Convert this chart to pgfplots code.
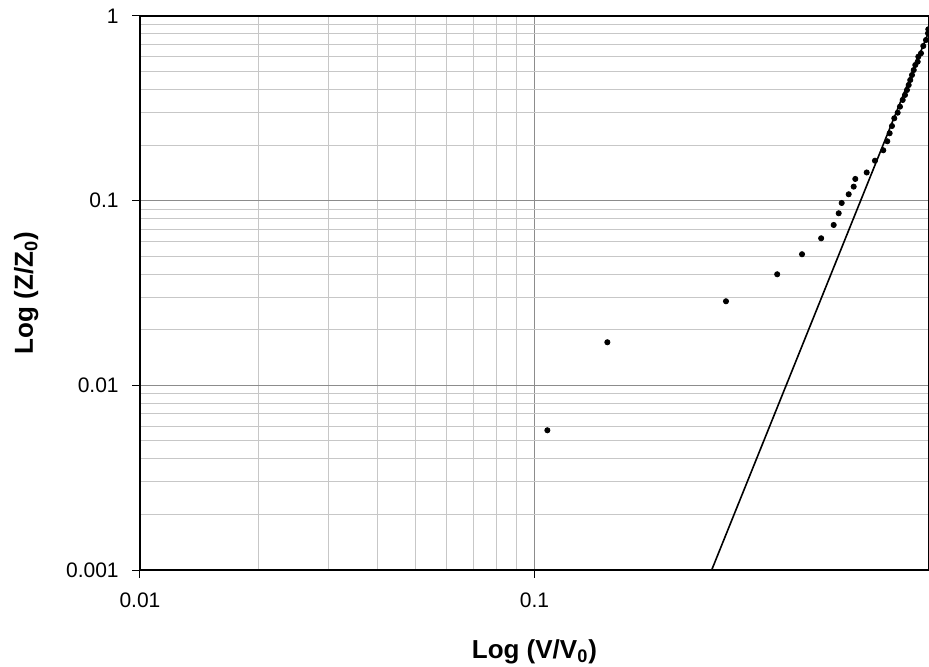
\documentclass[border=0pt]{standalone}
\usepackage{pgfplots}
\pgfplotsset{compat=1.18}
\usepackage{fontspec}
\setmainfont{Liberation Sans}

\begin{document}
\begin{tikzpicture}
\begin{axis}[
  name=ax,
  xmode=log, ymode=log,
  scale only axis,
  width=394.5pt, height=277pt,
  xmin=0.01, xmax=1, ymin=0.001, ymax=1,
  xtick={0.01,0.1}, xticklabels={0.01,0.1},
  ytick={0.001,0.01,0.1,1}, yticklabels={0.001,0.01,0.1,1},
  tick pos=left, tick align=outside,
  major tick length=4pt, minor tick length=0pt,
  major tick style={black, line width=0.5pt},
  grid=both,
  major grid style={black!45, line width=0.5pt},
  minor grid style={black!22, line width=0.5pt},
  axis line style={black, line width=0.6pt},
  ticklabel style={font=\fontsize{10.5}{12}\selectfont, inner sep=0pt},
  xticklabel style={anchor=base, yshift=-15pt},
  yticklabel style={anchor=east, xshift=-6.5pt},
  xlabel={Log (V/V\textsubscript{0})},
  ylabel={Log (Z/Z\textsubscript{0})},
  label style={font=\fontsize{13}{15}\selectfont\bfseries},
  xlabel style={at={([yshift=-44pt]axis description cs:0.5,0)}, anchor=base},
  ylabel style={at={([xshift=-53.5pt]axis description cs:0,0.5)}, anchor=base, rotate=0},
]
% measured points
\addplot[only marks, mark=*, mark size=1.3pt, black] coordinates {
  (0.1078,0.00571) (0.1530,0.01711) (0.3058,0.02852) (0.4123,0.03995)
  (0.4766,0.05127) (0.5329,0.06256) (0.5734,0.07386) (0.5904,0.08545)
  (0.6008,0.09717) (0.6259,0.1083) (0.6444,0.1191) (0.6504,0.1311)
  (0.6952,0.1421) (0.7296,0.1646) (0.7659,0.1875) (0.7840,0.2097)
  (0.7950,0.2317) (0.8057,0.2537) (0.8166,0.2793) (0.8330,0.2996)
  (0.8442,0.3228) (0.8577,0.3510) (0.8693,0.3735) (0.8794,0.3975)
  (0.8882,0.4229) (0.8965,0.4502) (0.9056,0.4791) (0.9147,0.5099)
  (0.9231,0.5427) (0.9362,0.5656) (0.9395,0.6021) (0.9544,0.6281)
  (0.9673,0.6880) (0.9826,0.7414) (0.9942,0.8061) (0.9959,0.8472)
};
% power-law fit
\addplot[black, line width=0.8pt] coordinates {(0.2813,0.001) (1,0.828)};
\end{axis}
\pgfresetboundingbox
\path ([shift={(-70pt,-48.5pt)}]ax.south west) rectangle ([shift={(0pt,8pt)}]ax.north east);
\end{tikzpicture}
\end{document}
